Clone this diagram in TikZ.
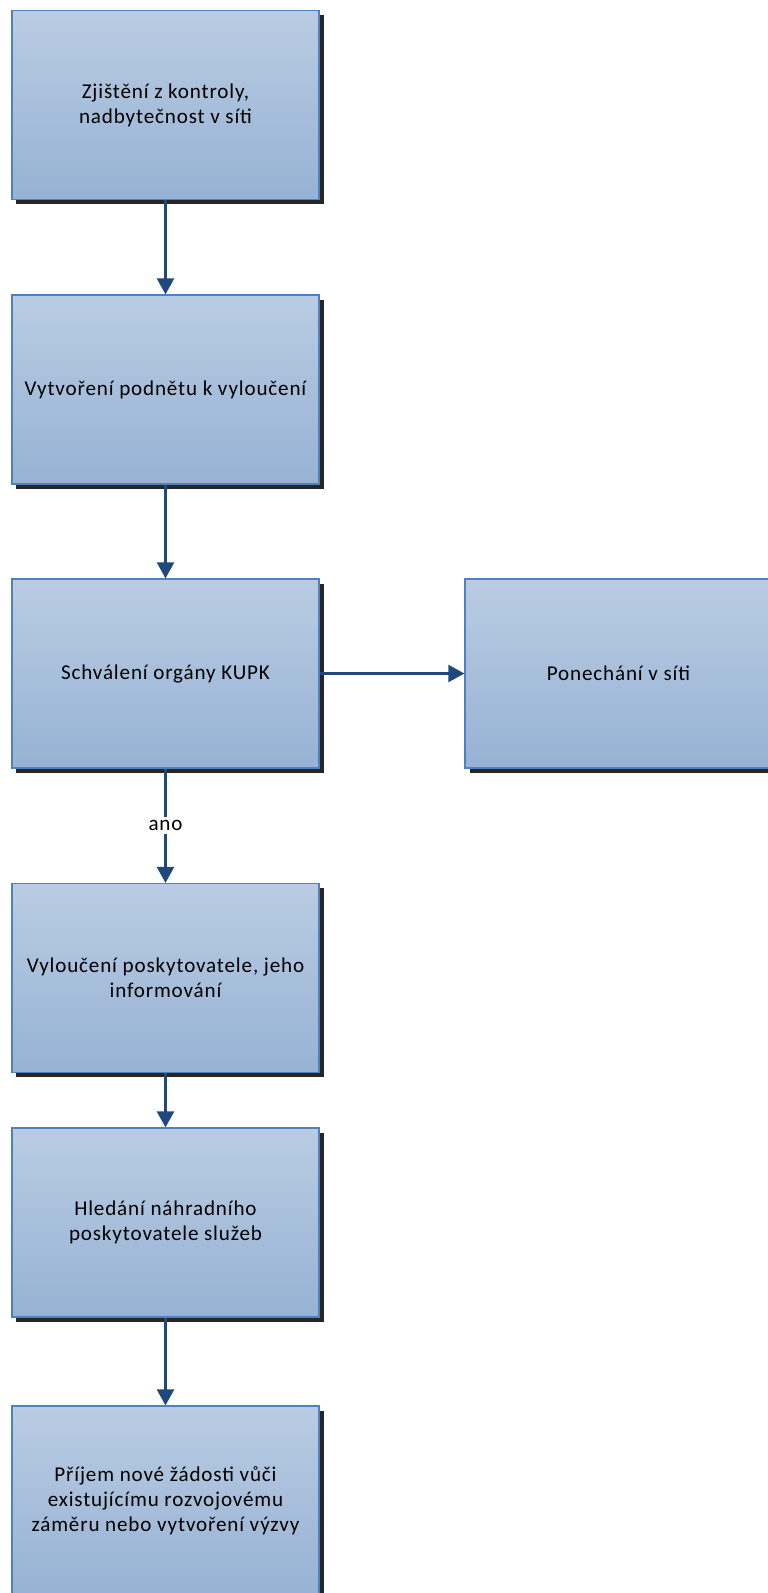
\documentclass[tikz,border=0pt]{standalone}
\usepackage{fontspec}
\setmainfont{Carlito}
\usepackage{tikz}
\usetikzlibrary{arrows.meta,shadows}

\definecolor{boxtop}{RGB}{185,204,227}
\definecolor{boxbot}{RGB}{151,178,212}
\definecolor{boxline}{RGB}{79,129,189}
\definecolor{arrowblue}{RGB}{31,73,125}

\newcommand{\krokfont}{\fontsize{12}{14.2}\selectfont\addfontfeatures{LetterSpace=4}}

\tikzset{
  krok/.style={rectangle, draw=boxline, line width=0.7pt, top color=boxtop, bottom color=boxbot,
    minimum width=6.14cm, minimum height=3.78cm, align=center, font=\krokfont,
    drop shadow={shadow xshift=0.09cm, shadow yshift=-0.09cm, fill=black!85, opacity=1}},
  sipka/.style={draw=arrowblue, line width=1.4pt, -{Triangle[length=0.32cm,width=0.34cm]}}
}

\begin{document}
\begin{tikzpicture}

\useasboundingbox (0,0) rectangle (15.36,-31.86);

\node[krok] (1) at (3.31,-2.10){Zjištění z kontroly,\\ nadbytečnost v síti};
\node[krok] (2) at (3.31,-7.79){Vytvoření podnětu k vyloučení};
\node[krok] (3) at (3.31,-13.47){Schválení orgány KUPK};
\node[krok] (4) at (12.37,-13.47){Ponechání v síti};
\node[krok] (5) at (3.31,-19.56){Vyloučení poskytovatele, jeho\\ informování};
\node[krok] (6) at (3.31,-24.45){Hledání náhradního\\ poskytovatele služeb};
\node[krok] (7) at (3.31,-30.01){Příjem nové žádosti vůči\\ existujícímu rozvojovému\\ záměru nebo vytvoření výzvy};
\draw[sipka] (1) -- (2);
\draw[sipka] (2) -- (3);
\draw[sipka] (3) -- (4);
\draw[sipka] (3) -- node[fill=white, inner sep=2pt, font=\krokfont]{ano} (5);
\draw[sipka] (5) -- (6);
\draw[sipka] (6) -- (7);

\end{tikzpicture}
\end{document}
